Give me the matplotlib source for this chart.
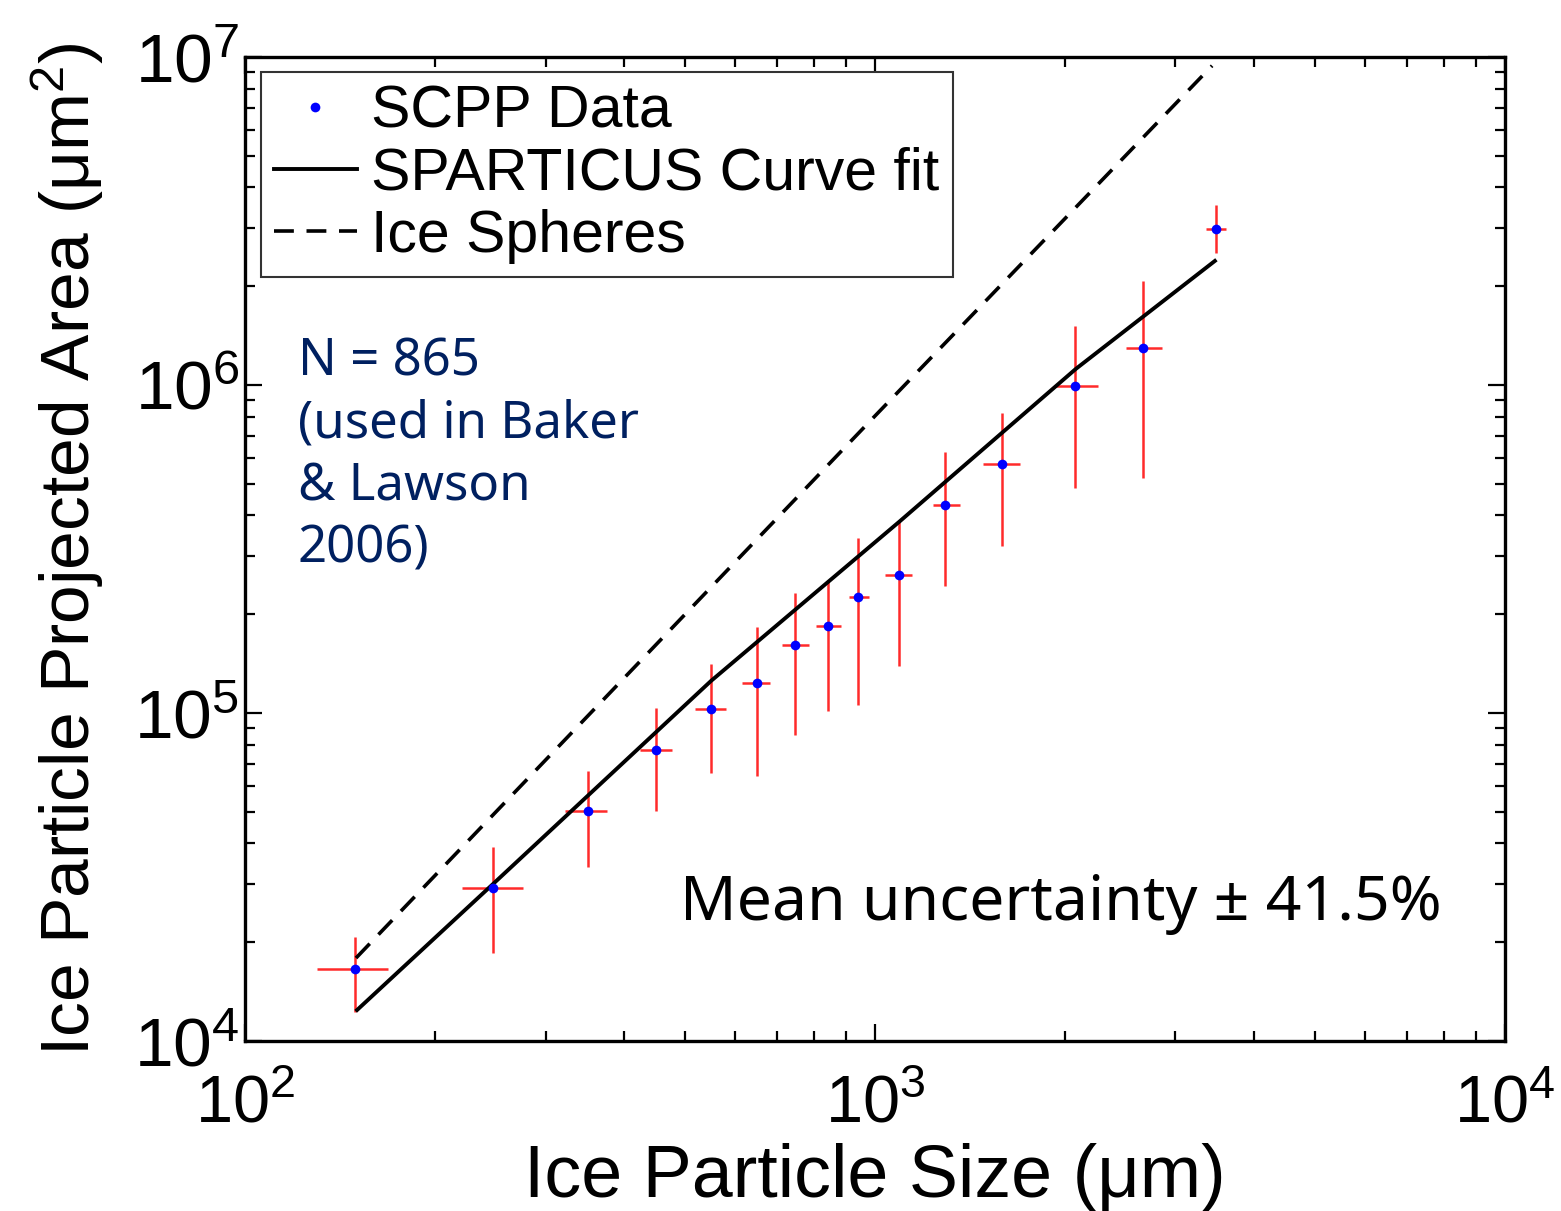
import numpy as np
import matplotlib
matplotlib.use("Agg")
import matplotlib.pyplot as plt

plt.rcParams['font.family'] = ['Liberation Sans', 'DejaVu Sans']
plt.rcParams['mathtext.fontset'] = 'custom'
plt.rcParams['mathtext.rm'] = 'Liberation Sans'
plt.rcParams['mathtext.it'] = 'Liberation Sans:italic'
plt.rcParams['mathtext.default'] = 'regular'

# SCPP data: size (um) and projected area (um^2), with error bar ends
size = [149.5, 247.6, 350.4, 449.1, 549, 649.6, 746.5, 842.2, 939.7,
        1092, 1291, 1591, 2077, 2663, 3478]
size_lo = [130.1, 221, 322, 423.6, 518, 615, 711.9, 806, 909.3,
           1037, 1236, 1484, 1924, 2502, 3353]
size_hi = [168.7, 276, 375.5, 476, 580, 681, 785.7, 883, 978,
           1145, 1364, 1699, 2259, 2855, 3607]
area = [16580, 29280, 50270, 77140, 102850, 123500, 161200, 184200, 225800,
        263400, 430700, 574200, 993000, 1.297e6, 2.99e6]
area_lo = [12260, 18550, 33920, 50270, 65620, 64260, 85670, 101400, 105800,
           139100, 243900, 322900, 485300, 520600, 2.526e6]
area_hi = [20750, 39040, 66570, 103560, 141100, 182900, 232200, 254400, 341600,
           387700, 624600, 821400, 1.513e6, 2.076e6, 3.538e6]

# curves
fit_size = [150.6, 247.6, 549.2, 1092, 2084, 3465]
fit_area = [12430, 30110, 125200, 382200, 1.119e6, 2.388e6]
sphere_size = [150, 1000, 3430]
sphere_area = [17900, 804000, 9.40e6]

size = np.array(size)
area = np.array(area)
xerr = [size - np.array(size_lo), np.array(size_hi) - size]
yerr = [area - np.array(area_lo), np.array(area_hi) - area]

fig = plt.figure(figsize=(15.61, 12.11), dpi=100)
ax = fig.add_axes([0.157, 0.1404, 0.807, 0.8126])

ax.errorbar(size, area, xerr=xerr, yerr=yerr, fmt='none', ecolor='#ff2a2a',
            elinewidth=1.8, capsize=0, zorder=2)
ax.plot(fit_size, fit_area, color='black', lw=2.8, zorder=3)
ax.plot(sphere_size, sphere_area, color='black', lw=2.6, ls=(0, (5.5, 3.5)), zorder=3)
ax.plot(size, area, 'o', color='blue', ms=7, mec='none', zorder=4)

# legend proxies
h1, = ax.plot([], [], 'o', color='blue', ms=7, mec='none', label='SCPP Data')
h2, = ax.plot([], [], color='black', lw=2.8, label='SPARTICUS Curve fit')
h3, = ax.plot([], [], color='black', lw=2.6, ls=(0, (5.5, 3.5)), label='Ice Spheres')
leg = ax.legend(handles=[h1, h2, h3], loc='upper left', bbox_to_anchor=(0.0127, 0.985),
                borderaxespad=0, fontsize=42.5, handlelength=1.4, handletextpad=0.25,
                labelspacing=0.12, borderpad=0.22, fancybox=False, framealpha=1,
                edgecolor='#333333')
leg.get_frame().set_linewidth(1.5)

ax.set_xscale('log')
ax.set_yscale('log')
ax.set_xlim(1e2, 1e4)
ax.set_ylim(1e4, 1e7)

ax.tick_params(which='both', direction='in', top=True, right=True, width=1.6)
ax.tick_params(which='major', length=12)
ax.tick_params(which='minor', length=7)
ax.tick_params(axis='x', labelsize=48, pad=24)
ax.tick_params(axis='y', labelsize=50, pad=4)
for s in ax.spines.values():
    s.set_linewidth(2.4)

ax.set_xlabel('Ice Particle Size (μm)', fontsize=53, labelpad=5)
ax.set_ylabel('Ice Particle Projected Area (μm$^2$)', fontsize=50, labelpad=20)

ax.text(0.042, 0.716, 'N = 865\n(used in Baker\n& Lawson\n2006)', transform=ax.transAxes,
        ha='left', va='top', fontsize=36.7, color='#002060', family='Noto Sans',
        linespacing=1.29)
ax.text(0.345, 0.123, 'Mean uncertainty ± 41.5%', transform=ax.transAxes,
        ha='left', va='baseline', fontsize=45, color='black', family='Noto Sans')

fig.savefig('out.png', dpi=100)
